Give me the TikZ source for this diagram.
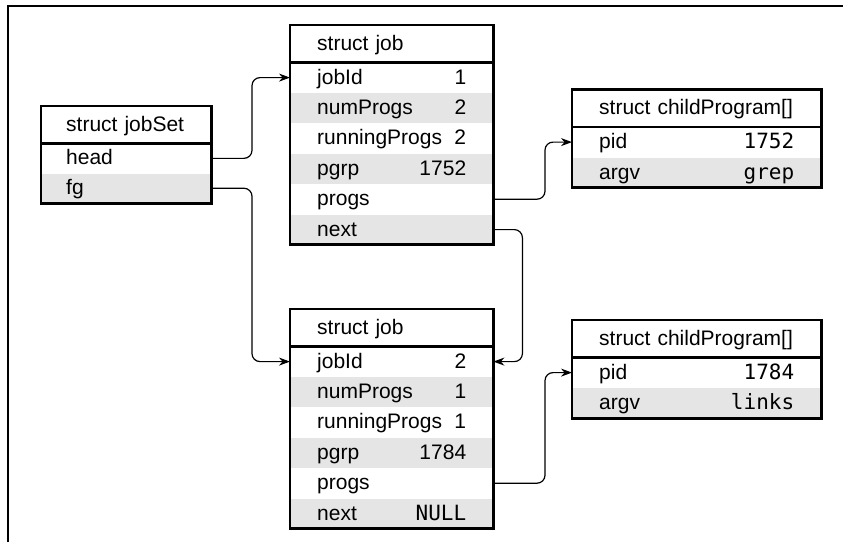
\documentclass[tikz,border=0pt]{standalone}
\usepackage{fontspec}
\setmainfont{Liberation Sans}
\newfontfamily\codefont{DejaVu Sans Mono}
\usetikzlibrary{arrows.meta}

\tikzset{
  field/.style={anchor=north west,inner xsep=27pt,inner ysep=0pt,minimum height=30pt,
    text height=17pt,text depth=4pt,align=left,font=\fontsize{21}{24}\selectfont},
  shaded/.style={field,fill=black!10},
  title/.style={field,minimum height=37pt},
  setfield/.style={inner xsep=25pt,text width=120pt},
  frame/.style={line width=2.8pt},
  link/.style={line width=1.2pt,rounded corners=8pt,-{Stealth[length=11pt,width=8pt]}},
}

\begin{document}
\begin{tikzpicture}[x=1pt,y=-1pt]
          \useasboundingbox (0,0) rectangle (843,543);
          \draw[frame] (8,542) -- (8,6) -- (843,6);
          % struct jobSet
          \node[title,setfield] (js) at (41,106) {struct jobSet};
          \node[field,setfield,minimum height=29.5pt] (jsh) at (js.south west) {head};
          \node[shaded,setfield,minimum height=29.5pt] (jsf) at (jsh.south west) {fg};
          \draw[frame] (js.north west) rectangle (jsf.south east);
          \draw[frame] (js.south west) -- (js.south east);
          % first struct job
          \node[title,text width=149pt] (j1) at (290,25) {struct job};
          \node[field,text width=149pt] (j1a) at (j1.south west) {jobId\hfill 1};
          \node[shaded,text width=149pt] (j1b) at (j1a.south west) {numProgs\hfill 2};
          \node[field,text width=149pt] (j1c) at (j1b.south west) {runningProgs\hfill 2};
          \node[shaded,text width=149pt] (j1d) at (j1c.south west) {pgrp\hfill 1752};
          \node[field,text width=149pt] (j1e) at (j1d.south west) {progs};
          \node[shaded,text width=149pt] (j1f) at (j1e.south west) {next};
          \draw[frame] (j1.north west) rectangle (j1f.south east);
          \draw[frame] (j1.south west) -- (j1.south east);
          % second struct job
          \node[title,text width=149pt] (j2) at (290,309) {struct job};
          \node[field,text width=149pt] (j2a) at (j2.south west) {jobId\hfill 2};
          \node[shaded,text width=149pt] (j2b) at (j2a.south west) {numProgs\hfill 1};
          \node[field,text width=149pt] (j2c) at (j2b.south west) {runningProgs\hfill 1};
          \node[shaded,text width=149pt] (j2d) at (j2c.south west) {pgrp\hfill 1784};
          \node[field,text width=149pt] (j2e) at (j2d.south west) {progs};
          \node[shaded,text width=149pt] (j2f) at (j2e.south west) {next\hfill{\codefont NULL}};
          \draw[frame] (j2.north west) rectangle (j2f.south east);
          \draw[frame] (j2.south west) -- (j2.south east);
          % child programs
          \node[title,text width=195pt] (c1) at (572,89.5) {struct childProgram[]};
          \node[field,text width=195pt] (c1a) at (c1.south west) {pid\hfill{\codefont 1752}};
          \node[shaded,text width=195pt] (c1b) at (c1a.south west) {argv\hfill{\codefont grep}};
          \draw[frame] (c1.north west) rectangle (c1b.south east);
          \draw[frame] (c1.south west) -- (c1.south east);
          \node[title,text width=195pt] (c2) at (572,320) {struct childProgram[]};
          \node[field,text width=195pt] (c2a) at (c2.south west) {pid\hfill{\codefont 1784}};
          \node[shaded,text width=195pt] (c2b) at (c2a.south west) {argv\hfill{\codefont links}};
          \draw[frame] (c2.north west) rectangle (c2b.south east);
          \draw[frame] (c2.south west) -- (c2.south east);
          % pointers
          \draw[link] (jsh.east) -| ([xshift=-38pt]j1a.west) -- (j1a.west);
          \draw[link] (jsf.east) -| ([xshift=-38pt]j2a.west) -- (j2a.west);
          \draw[link] (j1e.east) -| ([xshift=-27pt]c1a.west) -- (c1a.west);
          \draw[link] (j1f.east) -| ([xshift=29pt]j2a.east) -- (j2a.east);
          \draw[link] (j2e.east) -| ([xshift=-27pt]c2a.west) -- (c2a.west);
        \end{tikzpicture}
\end{document}
